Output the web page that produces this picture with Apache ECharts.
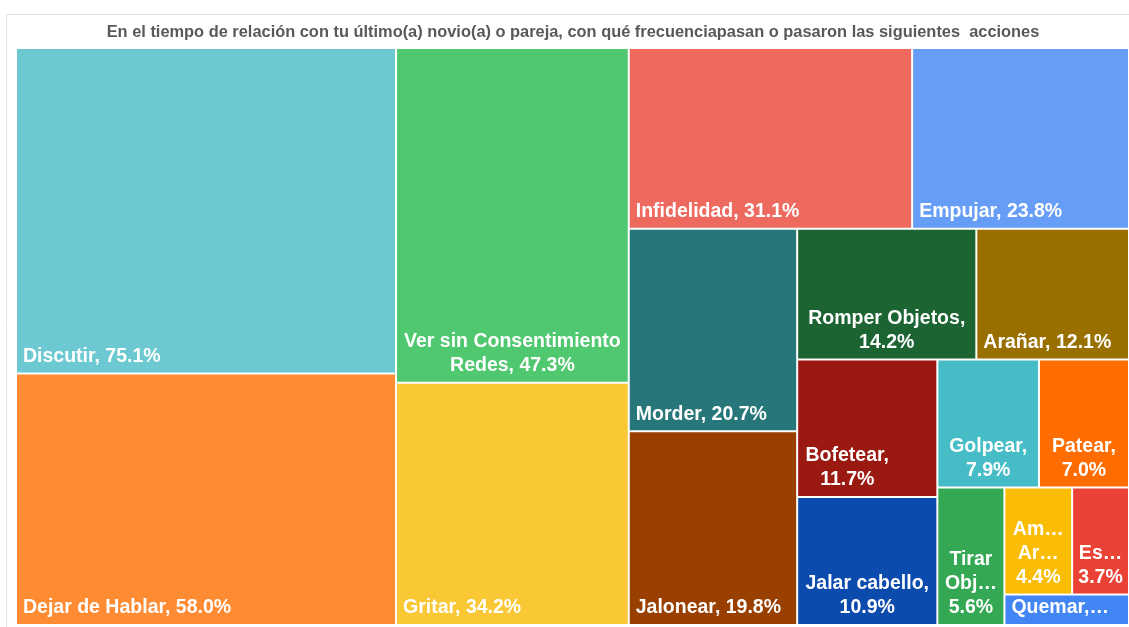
<!DOCTYPE html>
<html>
<head>
<meta charset="utf-8">
<script src="https://cdn.jsdelivr.net/npm/echarts@6/dist/echarts.min.js"></script>
<style>
  html, body { margin: 0; padding: 0; background: #fff; }
  #chart { width: 1129px; height: 627px; }
</style>
</head>
<body>
<div id="chart"></div>
<script>
const titulo = 'En el tiempo de relación con tu último(a) novio(a) o pareja, con qué frecuenciapasan o pasaron las siguientes  acciones';

const categorias = ['Discutir', 'Dejar de Hablar', 'Ver sin Consentimiento Redes', 'Gritar', 'Infidelidad', 'Empujar',
  'Morder', 'Jalonear', 'Romper Objetos', 'Arañar', 'Bofetear', 'Jalar cabello', 'Golpear', 'Patear',
  'Tirar Objetos', 'Amenazar Arma', 'Escupir', 'Quemar'];

const valores = [75.1, 58.0, 47.3, 34.2, 31.1, 23.8, 20.7, 19.8, 14.2, 12.1, 11.7, 10.9, 7.9, 7.0, 5.6, 4.4, 3.7, 2.3];

const etiquetas = ['Discutir, 75.1%', 'Dejar de Hablar, 58.0%', 'Ver sin Consentimiento\nRedes, 47.3%', 'Gritar, 34.2%',
  'Infidelidad, 31.1%', 'Empujar, 23.8%', 'Morder, 20.7%', 'Jalonear, 19.8%', 'Romper Objetos,\n14.2%',
  'Arañar, 12.1%', 'Bofetear,\n11.7%', 'Jalar cabello,\n10.9%', 'Golpear,\n7.9%', 'Patear,\n7.0%',
  'Tirar\nObj…\n5.6%', 'Am…\nAr…\n4.4%', 'Es…\n3.7%', 'Quemar,…'];

const colores = ['#6cc9d1', '#ff8b33', '#4fc870', '#f9c834', '#ee6a5f', '#669df6', '#26767a', '#993f00',
  '#1d6433', '#996f00', '#9a1911', '#0c4bae', '#46bcc6', '#ff6d00', '#34a853', '#fbbc04', '#ea4335', '#4285f4'];

// label placement styles (not data)
const etiquetaCentrada = { position: 'insideBottom', align: 'center', padding: [0, 2, 4, 2], overflow: 'none' };
const estiloEtiqueta = {
  'Ver sin Consentimiento Redes': etiquetaCentrada,
  'Romper Objetos': etiquetaCentrada,
  'Bofetear': { position: 'insideBottom', align: 'center', padding: [0, 46, 4, 6], overflow: 'none' },
  'Jalar cabello': etiquetaCentrada,
  'Golpear': etiquetaCentrada,
  'Patear': etiquetaCentrada,
  'Tirar Objetos': etiquetaCentrada,
  'Amenazar Arma': etiquetaCentrada,
  'Escupir': etiquetaCentrada
};

const datos = categorias.map((c, i) => {
  const item = { name: c, value: valores[i], itemStyle: { color: colores[i] } };
  if (estiloEtiqueta[c]) item.label = estiloEtiqueta[c];
  return item;
});

const chart = echarts.init(document.getElementById('chart'), null, { renderer: 'canvas' });
chart.setOption({
  animation: false,
  title: {
    text: titulo,
    left: 573,
    top: 24,
    padding: 0,
    textAlign: 'center',
    textStyle: { fontFamily: 'Liberation Sans, Arial, sans-serif', fontSize: 16.4, fontWeight: 'bold', color: '#595959' }
  },
  graphic: [{
    type: 'rect',
    shape: { x: 6.5, y: 14.5, width: 1300, height: 800 },
    style: { fill: 'none', stroke: '#e3e3e3', lineWidth: 1 },
    silent: true
  }],
  tooltip: { show: false },
  series: [{
    type: 'treemap',
    left: 17,
    top: 49,
    width: 1111,
    height: 575,
    roam: false,
    nodeClick: false,
    squareRatio: 0.96,
    breadcrumb: { show: false },
    levels: [
      { itemStyle: { borderWidth: 0, gapWidth: 2, borderColor: '#fff' } },
      { itemStyle: { borderWidth: 0, gapWidth: 0 } }
    ],
    label: {
      show: true,
      position: 'insideBottomLeft',
      align: 'left',
      padding: [0, 6, 4, 6],
      distance: 0,
      color: '#fff',
      fontFamily: 'Liberation Sans, Arial, sans-serif',
      fontWeight: 'bold',
      fontSize: 19.5,
      lineHeight: 24,
      overflow: 'truncate',
      formatter: p => etiquetas[categorias.indexOf(p.name)]
    },
    emphasis: { disabled: true },
    data: datos
  }]
});
</script>
</body>
</html>
